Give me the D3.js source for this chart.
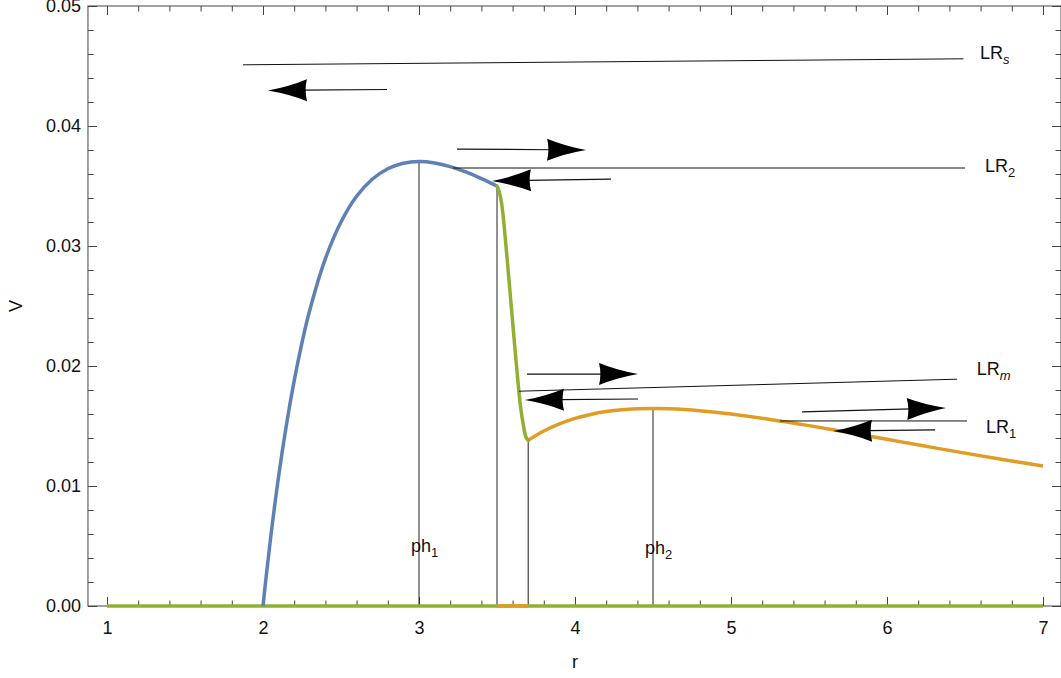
<!DOCTYPE html>
<html>
<head>
<meta charset="utf-8">
<script src="https://cdn.jsdelivr.net/npm/d3@7/dist/d3.min.js"></script>
<style>
  html, body { margin: 0; padding: 0; background: #fff; }
  svg { display: block; font-family: "Liberation Sans", Arial, sans-serif; }
</style>
</head>
<body>
<svg id="chart" width="1061" height="678"></svg>
<script>
// ---------------- data ----------------
const blueCurve = [
  [2.0, 0.0], [2.02, 0.00242], [2.05, 0.00580], [2.1, 0.01080], [2.15, 0.01509], [2.2, 0.01878],
  [2.25, 0.02195], [2.3, 0.02466], [2.4, 0.02894], [2.5, 0.03200], [2.6, 0.03414], [2.7, 0.03556],
  [2.8, 0.03644], [2.9, 0.03690], [3.0, 0.03704], [3.1, 0.03692], [3.2, 0.03662],
  [3.3, 0.03617], [3.4, 0.03562], [3.5, 0.03499]
];
const greenCurve = [
  [3.5, 0.0350], [3.51, 0.0347], [3.53, 0.0335], [3.55, 0.0311], [3.57, 0.0282],
  [3.59, 0.0252], [3.61, 0.0222], [3.63, 0.0193], [3.65, 0.0167], [3.67, 0.0150],
  [3.685, 0.0141], [3.7, 0.0138]
];
const orangeCurve = [
  [3.7, 0.01382], [3.8, 0.01458], [3.9, 0.01517], [4.0, 0.01563], [4.1, 0.01596], [4.2, 0.01620],
  [4.3, 0.01636], [4.4, 0.01644], [4.5, 0.01646], [4.6, 0.01644], [4.7, 0.01638], [4.8, 0.01628],
  [5.0, 0.01600], [5.25, 0.01555], [5.5, 0.01503], [5.75, 0.01447], [6.0, 0.01389],
  [6.25, 0.01331], [6.5, 0.01274], [6.75, 0.01219], [7.0, 0.01166]
];
const baseGreen = [[1, 0], [7, 0]];
const baseOrange = [[3.5, 0], [3.7, 0]];

// vertical markers [r, V top]
const verticals = [[3.0, 0.0370], [3.5, 0.0350], [3.7, 0.0138], [4.5, 0.01646]];

// long level lines [x1, y1, x2, y2]
const levelLines = [
  [1.872, 0.0451, 6.49, 0.0456],   // LR_s
  [3.218, 0.0365, 6.50, 0.0365],   // LR_2
  [3.641, 0.0179, 6.449, 0.0189],  // LR_m
  [5.314, 0.01542, 6.513, 0.01542] // LR_1
];
// arrows [x start, y start, x tip, y tip]
const arrows = [
  [2.795, 0.04304, 2.032, 0.04296],
  [3.244, 0.03808, 4.071, 0.0380],
  [4.231, 0.03558, 3.468, 0.03542],
  [3.692, 0.01933, 4.404, 0.01933],
  [4.404, 0.01725, 3.679, 0.01717],
  [5.455, 0.01617, 6.378, 0.0165],
  [6.308, 0.01467, 5.654, 0.01458]
];
// labels [x, y, main, sub, italicSub]
const labels = [
  [6.596, 0.04558, "LR", "s", true],
  [6.628, 0.03617, "LR", "2", false],
  [6.575, 0.01925, "LR", "m", true],
  [6.635, 0.01442, "LR", "1", false],
  [2.949, 0.0045, "ph", "1", false],
  [4.449, 0.00431, "ph", "2", false]
];

const xMajor = [1, 2, 3, 4, 5, 6, 7];
const xMinor = [1.2,1.4,1.6,1.8,2.2,2.4,2.6,2.8,3.2,3.4,3.6,3.8,4.2,4.4,4.6,4.8,5.2,5.4,5.6,5.8,6.2,6.4,6.6,6.8];
const yMajor = [0, 0.01, 0.02, 0.03, 0.04, 0.05];
const yMinor = [0.002,0.004,0.006,0.008,0.012,0.014,0.016,0.018,0.022,0.024,0.026,0.028,0.032,0.034,0.036,0.038,0.042,0.044,0.046,0.048];
const frameX = [0.878, 7.1155];
const frameY = [0, 0.05];

// ---------------- drawing ----------------
const svg = d3.select("#chart");
const x = d3.scaleLinear().domain([1, 7]).range([107, 1043]);
const y = d3.scaleLinear().domain([0, 0.05]).range([606, 6]);

const axisColor = "#444";
const fs = 18;

const x0 = x(frameX[0]), x1 = x(frameX[1]);
const yb = y(frameY[0]), yt = y(frameY[1]);

function styleAxis(g) {
  g.select(".domain").remove();
  g.selectAll(".tick line").attr("stroke", axisColor).attr("stroke-width", 1);
  g.selectAll("text").attr("font-size", fs).attr("fill", "#111")
    .attr("font-family", "'Liberation Sans', Arial, sans-serif");
}

// left
svg.append("g").attr("transform", `translate(${x0},0)`)
  .call(d3.axisLeft(y).tickValues(yMajor).tickSize(-9).tickPadding(7).tickFormat(d3.format(".2f")))
  .call(styleAxis);
svg.append("g").attr("transform", `translate(${x0},0)`)
  .call(d3.axisLeft(y).tickValues(yMinor).tickSize(-5.5).tickFormat(""))
  .call(styleAxis);
// right
svg.append("g").attr("transform", `translate(${x1},0)`)
  .call(d3.axisRight(y).tickValues(yMajor).tickSize(-9).tickFormat(""))
  .call(styleAxis);
svg.append("g").attr("transform", `translate(${x1},0)`)
  .call(d3.axisRight(y).tickValues(yMinor).tickSize(-5.5).tickFormat(""))
  .call(styleAxis);
// bottom
svg.append("g").attr("transform", `translate(0,${yb})`)
  .call(d3.axisBottom(x).tickValues(xMajor).tickSize(-9).tickPadding(15).tickFormat(d3.format("d")))
  .call(styleAxis);
svg.append("g").attr("transform", `translate(0,${yb})`)
  .call(d3.axisBottom(x).tickValues(xMinor).tickSize(-5.5).tickFormat(""))
  .call(styleAxis);
// top
svg.append("g").attr("transform", `translate(0,${yt})`)
  .call(d3.axisTop(x).tickValues(xMajor).tickSize(-9).tickFormat(""))
  .call(styleAxis);
svg.append("g").attr("transform", `translate(0,${yt})`)
  .call(d3.axisTop(x).tickValues(xMinor).tickSize(-5.5).tickFormat(""))
  .call(styleAxis);

// frame
svg.append("rect")
  .attr("x", x0).attr("y", yt).attr("width", x1 - x0).attr("height", yb - yt)
  .attr("fill", "none").attr("stroke", axisColor).attr("stroke-width", 1);

// axis titles
svg.append("text").attr("x", 575).attr("y", 668).attr("text-anchor", "middle")
  .attr("font-size", fs).attr("fill", "#111").text("r");
svg.append("text").attr("transform", `translate(22,${y(0.025)}) rotate(-90)`)
  .attr("text-anchor", "middle").attr("font-size", fs).attr("fill", "#111").text("V");

const line = d3.line().x(d => x(d[0])).y(d => y(d[1]));
const smooth = d3.line().x(d => x(d[0])).y(d => y(d[1])).curve(d3.curveCatmullRom.alpha(0.5));

// vertical markers
svg.append("g").selectAll("line").data(verticals).join("line")
  .attr("x1", d => x(d[0])).attr("x2", d => x(d[0]))
  .attr("y1", d => y(0)).attr("y2", d => y(d[1]))
  .attr("stroke", "#222").attr("stroke-width", 1);

// baseline
svg.append("path").datum(baseGreen).attr("d", line).attr("fill", "none")
  .attr("stroke", "#8FB032").attr("stroke-width", 3.5);
svg.append("path").datum(baseOrange).attr("d", line).attr("fill", "none")
  .attr("stroke", "#E19C24").attr("stroke-width", 3.5);

// curves
svg.append("path").datum(blueCurve).attr("d", smooth).attr("fill", "none")
  .attr("stroke", "#5E81B5").attr("stroke-width", 3.5);
svg.append("path").datum(orangeCurve).attr("d", smooth).attr("fill", "none")
  .attr("stroke", "#E19C24").attr("stroke-width", 3.5);
svg.append("path").datum(greenCurve).attr("d", smooth).attr("fill", "none")
  .attr("stroke", "#8FB032").attr("stroke-width", 3.5).attr("stroke-linecap", "round");

// level lines
svg.append("g").selectAll("line").data(levelLines).join("line")
  .attr("x1", d => x(d[0])).attr("y1", d => y(d[1]))
  .attr("x2", d => x(d[2])).attr("y2", d => y(d[3]))
  .attr("stroke", "#111").attr("stroke-width", 1);

// arrows
const L = 39, W = 11;
const headPath = `M0,0 Q${-L*0.55},${-W*0.35} ${-L},${-W} Q${-L*0.93},0 ${-L},${W} Q${-L*0.55},${W*0.35} 0,0 Z`;
const ag = svg.append("g");
arrows.forEach(a => {
  const sx = x(a[0]), sy = y(a[1]), tx = x(a[2]), ty = y(a[3]);
  const ang = Math.atan2(ty - sy, tx - sx);
  ag.append("line").attr("x1", sx).attr("y1", sy)
    .attr("x2", tx - Math.cos(ang) * (L - 4)).attr("y2", ty - Math.sin(ang) * (L - 4))
    .attr("stroke", "#111").attr("stroke-width", 1.2);
  ag.append("path").attr("d", headPath)
    .attr("transform", `translate(${tx},${ty}) rotate(${ang * 180 / Math.PI})`)
    .attr("fill", "#000");
});

// labels
labels.forEach(l => {
  const t = svg.append("text").attr("x", x(l[0])).attr("y", y(l[1]))
    .attr("font-size", fs).attr("fill", "#111");
  t.append("tspan").text(l[2]);
  t.append("tspan").attr("dy", 5).attr("font-size", 13)
    .attr("font-style", l[4] ? "italic" : "normal").text(l[3]);
});
</script>
</body>
</html>
